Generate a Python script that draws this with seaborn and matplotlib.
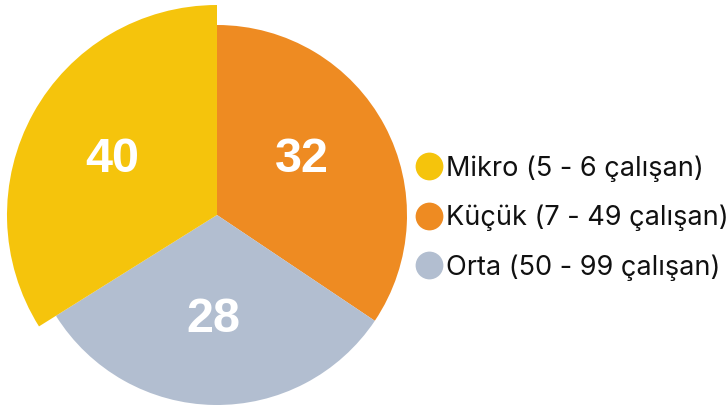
import matplotlib
matplotlib.use('Agg')
import matplotlib.pyplot as plt
import seaborn as sns
from matplotlib.lines import Line2D

sns.set_theme(style='white')
plt.rcParams['font.family'] = ['Inter', 'DejaVu Sans']

# Datos (orden horario desde arriba)
categorias = ['Küçük (7 - 49 çalışan)', 'Orta (50 - 99 çalışan)', 'Mikro (5 - 6 çalışan)']
valores = [32, 28, 40]
# proporcion angular
angulos = [34.4, 31.7, 33.9]
colores = ['#EE8B22', '#B2BED0', '#F5C40C']
legend_orden = [2, 0, 1]

fig = plt.figure(figsize=(7.28, 4.05), dpi=100)
ax = fig.add_axes([0, 0, 1, 1])

wedges, _ = ax.pie(angulos, colors=colores, startangle=90, counterclock=False,
                   center=(217, 190), radius=190, frame=False,
                   wedgeprops={'linewidth': 0})
# Mikro sobresale
wedges[2].set_radius(210)

ax.set_xlim(0, 728)
ax.set_ylim(0, 405)
ax.set_aspect('equal')
ax.axis('off')

pos_labels = [(302, 245), (213, 85), (112, 245)]
for (x, y), v in zip(pos_labels, valores):
    ax.text(x, y, str(v), ha='center', va='center', color='white',
            fontsize=35, fontweight='bold', family=['Liberation Sans', 'DejaVu Sans'])

handles = [Line2D([0], [0], marker='o', linestyle='', markersize=20,
                  markerfacecolor=colores[i], markeredgewidth=0) for i in legend_orden]
labels = [categorias[i] for i in legend_orden]
leg = ax.legend(handles, labels, loc='center left', bbox_to_anchor=(415 / 728, 1 - 218 / 405),
                frameon=False, fontsize=19.5, labelspacing=0.85, handletextpad=0.15,
                handlelength=1.0, borderpad=0, borderaxespad=0)
for t in leg.get_texts():
    t.set_color('#111111')

plt.savefig('out.png', dpi=100)
plt.close()
